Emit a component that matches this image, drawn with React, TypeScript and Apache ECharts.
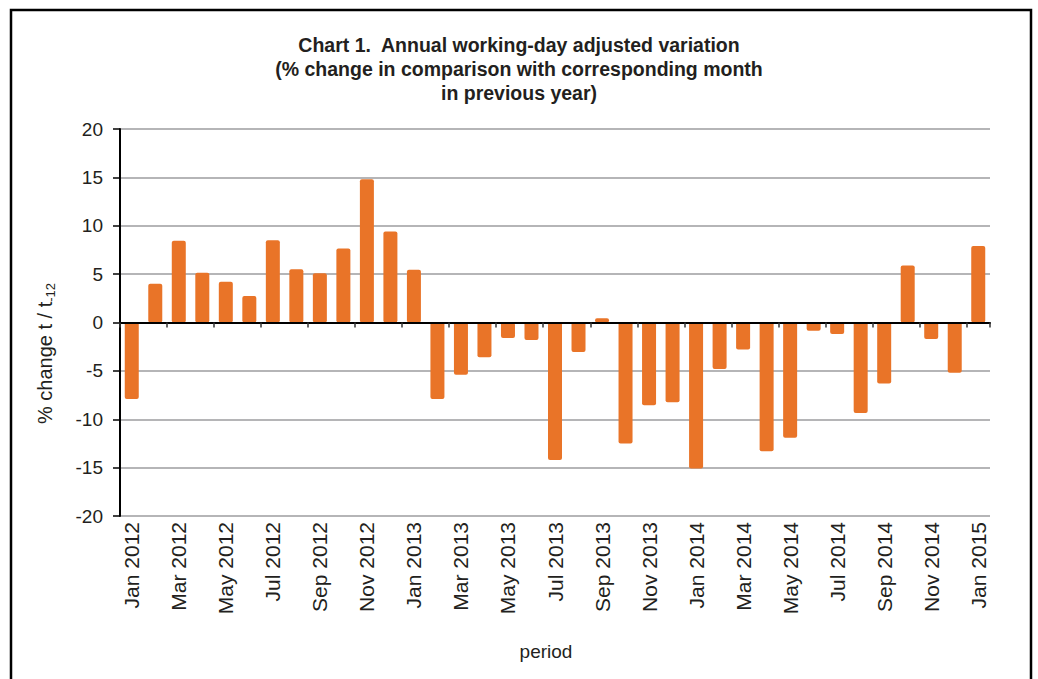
import React, { useEffect, useRef } from 'react';
import * as echarts from 'echarts';

const months = [
  'Jan 2012', 'Feb 2012', 'Mar 2012', 'Apr 2012', 'May 2012', 'Jun 2012', 'Jul 2012', 'Aug 2012', 'Sep 2012', 'Oct 2012', 'Nov 2012', 'Dec 2012',
  'Jan 2013', 'Feb 2013', 'Mar 2013', 'Apr 2013', 'May 2013', 'Jun 2013', 'Jul 2013', 'Aug 2013', 'Sep 2013', 'Oct 2013', 'Nov 2013', 'Dec 2013',
  'Jan 2014', 'Feb 2014', 'Mar 2014', 'Apr 2014', 'May 2014', 'Jun 2014', 'Jul 2014', 'Aug 2014', 'Sep 2014', 'Oct 2014', 'Nov 2014', 'Dec 2014',
  'Jan 2015',
];

const variation = [
  -7.9, 4.0, 8.45, 5.15, 4.2, 2.75, 8.5, 5.5, 5.1, 7.65, 14.8, 9.4,
  5.45, -7.9, -5.4, -3.6, -1.6, -1.8, -14.2, -3.05, 0.45, -12.5, -8.55, -8.25,
  -15.1, -4.8, -2.8, -13.3, -11.9, -0.85, -1.2, -9.35, -6.3, 5.9, -1.7, -5.2,
  7.9,
];

const titleLines = [
  'Chart 1.  Annual working-day adjusted variation',
  '(% change in comparison with corresponding month',
  'in previous year)',
];

const FONT = '"Liberation Sans", Arial, Helvetica, sans-serif';

export default function App() {
  const ref = useRef<HTMLDivElement>(null);

  useEffect(() => {
    if (!ref.current) return;
    const chart = echarts.init(ref.current, undefined, { renderer: 'svg' });

    const ctx = document.createElement('canvas').getContext('2d');
    let mainW = 122;
    if (ctx) {
      ctx.font = '20px "Liberation Sans", Arial, sans-serif';
      mainW = ctx.measureText('% change t / t').width;
    }

    chart.setOption({
      animation: false,
      backgroundColor: '#fff',
      title: {
        text: titleLines.join('\n'),
        left: 'center',
        top: 28,
        textStyle: {
          fontFamily: FONT,
          fontSize: 19.5,
          fontWeight: 'bold',
          lineHeight: 24,
          color: '#231f20',
        },
      },
      grid: { left: 120, right: 48, top: 129, bottom: 163, containLabel: false },
      xAxis: [
        {
          type: 'category',
          data: months,
          position: 'bottom',
          axisLine: { show: false, onZero: false },
          axisTick: { show: false },
          axisLabel: {
            interval: 1,
            rotate: 90,
            margin: 6,
            fontFamily: FONT,
            fontSize: 21,
            color: '#231f20',
          },
        },
        {
          type: 'category',
          data: months,
          position: 'bottom',
          z: 5,
          axisLine: { show: true, onZero: true, lineStyle: { color: '#000', width: 2 } },
          axisTick: { show: true, interval: 1, length: 5, lineStyle: { color: '#333', width: 1.5 } },
          axisLabel: { show: false },
        },
      ],
      yAxis: {
        type: 'value',
        min: -20,
        max: 20,
        interval: 5,
        axisLine: { show: true, onZero: false, lineStyle: { color: '#000', width: 2 } },
        axisTick: { show: true, length: 7, lineStyle: { color: '#000', width: 1.5 } },
        axisLabel: { margin: 17, fontFamily: FONT, fontSize: 19, color: '#231f20' },
        splitLine: { show: true, lineStyle: { color: '#b5b5b7', width: 2 } },
      },
      series: [
        {
          type: 'bar',
          xAxisIndex: 0,
          data: variation,
          barWidth: 14,
          itemStyle: { color: '#e97428', borderRadius: 2 },
        },
      ],
      graphic: [
        {
          type: 'rect',
          silent: true,
          shape: { x: 11, y: 10, width: 1020, height: 720 },
          style: { fill: 'none', stroke: '#000', lineWidth: 2.5 },
        },
        {
          type: 'text',
          x: 546,
          y: 651,
          style: {
            text: 'period',
            font: '19px "Liberation Sans", Arial, sans-serif',
            fill: '#231f20',
            textAlign: 'center',
            textVerticalAlign: 'middle',
          },
        },
        {
          type: 'group',
          x: 45,
          y: 424,
          rotation: Math.PI / 2,
          children: [
            {
              type: 'text',
              x: 0,
              y: 0,
              style: {
                text: '% change t / t',
                font: '20px "Liberation Sans", Arial, sans-serif',
                fill: '#231f20',
                textAlign: 'left',
                textVerticalAlign: 'middle',
              },
            },
            {
              type: 'text',
              x: mainW,
              y: 5,
              style: {
                text: '-12',
                font: '13px "Liberation Sans", Arial, sans-serif',
                fill: '#231f20',
                textAlign: 'left',
                textVerticalAlign: 'middle',
              },
            },
          ],
        },
      ],
    });

    return () => chart.dispose();
  }, []);

  return (
    <div
      ref={ref}
      style={{ position: 'fixed', left: 0, top: 0, width: 1038, height: 679, background: '#fff' }}
    />
  );
}
